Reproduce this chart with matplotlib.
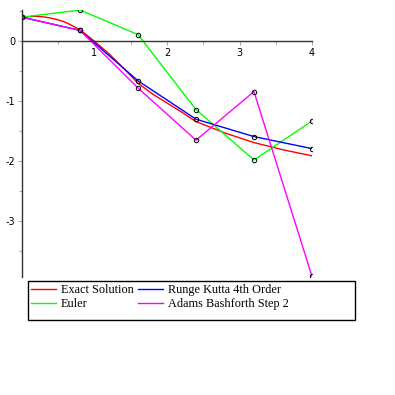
import matplotlib
matplotlib.use("Agg")
import matplotlib.pyplot as plt
from matplotlib.patches import Rectangle

plt.rcParams["axes.unicode_minus"] = False

# step h = 0.8 on [0, 4]
x_steps = [0.0, 0.8, 1.6, 2.4, 3.2, 4.0]
euler = [0.40, 0.52, 0.11, -1.14, -1.98, -1.33]
rk4 = [0.40, 0.18, -0.66, -1.30, -1.59, -1.79]
adams = [0.40, 0.18, -0.78, -1.65, -0.84, -3.92]

# exact solution
x_exact = [0.0, 0.1, 0.2, 0.3, 0.4, 0.5, 0.6, 0.7, 0.8, 1.0, 1.2, 1.4, 1.6,
           1.8, 2.0, 2.2, 2.4, 2.8, 3.2, 3.6, 4.0]
exact = [0.40, 0.41, 0.415, 0.405, 0.385, 0.355, 0.315, 0.255, 0.19, 0.0, -0.21,
         -0.45, -0.70, -0.88, -1.03, -1.18, -1.34, -1.53, -1.69, -1.81, -1.91]

fig = plt.figure(figsize=(3.95, 3.95), dpi=100)
ax = fig.add_axes([22 / 395, 1 - 277 / 395, 290 / 395, 267 / 395])

ax.plot(x_exact, exact, color="#ff0000", lw=1.0, label="Exact Solution")
ax.plot(x_steps, euler, color="#00ff00", lw=1.0, label="Euler")
ax.plot(x_steps, rk4, color="#0000ff", lw=1.0, label="Runge Kutta 4th Order")
ax.plot(x_steps, adams, color="#ff00ff", lw=1.0, label="Adams Bashforth Step 2")

marker_style = dict(ls="none", marker="o", ms=3.2, mfc="none", mec="black", mew=0.7)
for ys in (euler, rk4, adams):
    ax.plot(x_steps, ys, **marker_style)

ax.set_xlim(0, 4)
ax.set_ylim(-3.93, 0.52)

for side in ("top", "right"):
    ax.spines[side].set_visible(False)
ax.spines["bottom"].set_position(("data", 0))
ax.spines["left"].set_position(("data", 0))
for side in ("bottom", "left"):
    ax.spines[side].set_color("#333333")
    ax.spines[side].set_linewidth(1.0)

ax.set_xticks([1, 2, 3, 4])
ax.set_xticks([0.5, 1.5, 2.5, 3.5], minor=True)
ax.set_yticks([0, -1, -2, -3])
ax.set_yticks([0.5, -0.5, -1.5, -2.5, -3.5], minor=True)
ax.set_yticklabels(["0", "-1", "-2", "-3"])
ax.tick_params(which="both", direction="out", length=3, width=0.8, color="#aaaaaa",
               labelsize=7, pad=2)
ax.tick_params(which="minor", length=2)

handles, labels = ax.get_legend_handles_labels()
fig.legend(handles, labels, loc="upper left", ncol=2, frameon=False,
           bbox_to_anchor=(29 / 395, 1 - 282 / 395),
           prop={"family": "Liberation Serif", "size": 8.8},
           handlelength=2.0, handletextpad=0.4, columnspacing=0.4,
           labelspacing=0.15, borderpad=0.2, borderaxespad=0)
fig.add_artist(Rectangle((28 / 395, 1 - 320 / 395), 327 / 395, 39 / 395,
                         transform=fig.transFigure, fill=False,
                         edgecolor="black", lw=1.0))

fig.savefig("out.png", dpi=100)
